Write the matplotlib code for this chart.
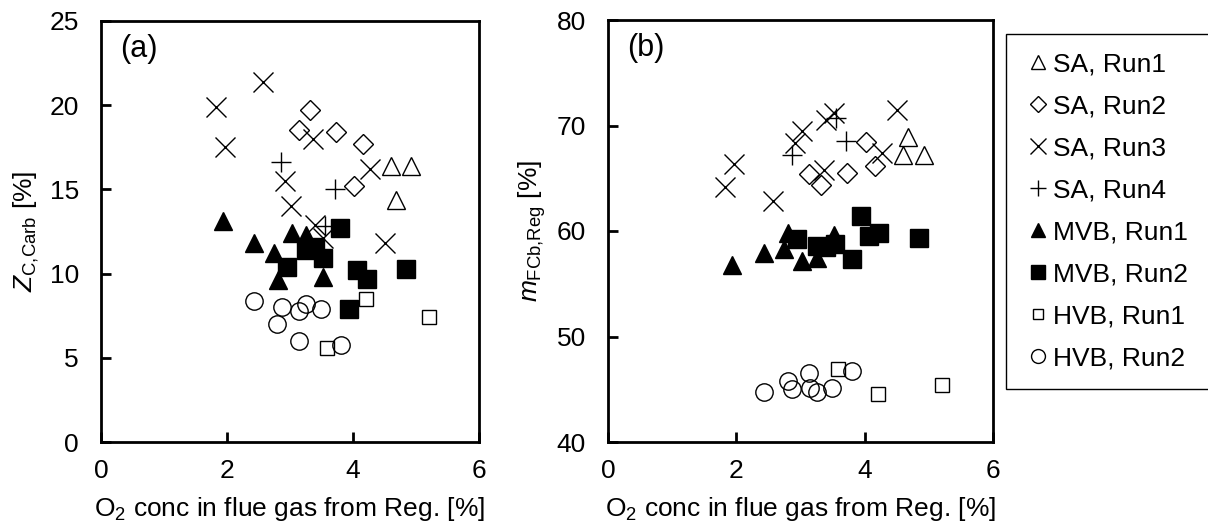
import matplotlib
matplotlib.use("Agg")
import matplotlib.pyplot as plt

plt.rcParams["font.family"] = ["Liberation Sans", "DejaVu Sans"]
plt.rcParams["mathtext.fontset"] = "custom"
plt.rcParams["mathtext.rm"] = "Liberation Sans"
plt.rcParams["mathtext.it"] = "Liberation Sans:italic"

# O2 conc (x) with Z_C,Carb (panel a) and m_FCb,Reg (panel b) per run
sa1_x = [4.60, 4.92, 4.68]
sa1_a = [16.4, 16.4, 14.4]
sa1_b = [67.2, 67.2, 68.9]

sa2_x = [3.32, 3.14, 3.73, 4.16, 4.02]
sa2_a = [19.7, 18.5, 18.4, 17.7, 15.2]
sa2_b = [64.35, 65.4, 65.5, 66.2, 68.4]

sa3_x = [1.83, 2.57, 1.97, 3.36, 2.92, 3.02, 4.27, 3.40, 3.52, 4.51]
sa3_a = [19.9, 21.4, 17.5, 18.0, 15.5, 14.0, 16.2, 12.9, 12.1, 11.8]
sa3_b = [64.2, 62.85, 66.35, 65.8, 68.3, 69.5, 67.4, 70.5, 71.15, 71.5]

sa4_x = [2.86, 3.71, 3.56]
sa4_a = [16.6, 15.0, 12.8]
sa4_b = [67.2, 68.55, 70.7]

mvb1_x = [1.94, 2.43, 2.75, 3.03, 3.26, 2.81, 3.52]
mvb1_a = [13.1, 11.8, 11.2, 12.4, 12.3, 9.6, 9.8]
mvb1_b = [56.8, 57.9, 58.3, 57.2, 57.4, 59.8, 59.6]

mvb2_x = [3.80, 3.26, 3.53, 2.95, 4.06, 4.22, 4.84, 3.94, 3.40]
mvb2_a = [12.7, 11.4, 10.9, 10.4, 10.2, 9.7, 10.3, 7.9, 11.6]
mvb2_b = [57.3, 58.6, 58.8, 59.2, 59.5, 59.85, 59.3, 61.45, 58.5]

hvb1_x = [4.21, 5.20, 3.58]
hvb1_a = [8.5, 7.4, 5.6]
hvb1_b = [44.55, 45.4, 46.9]

hvb2_x = [2.43, 2.87, 3.25, 3.15, 3.49, 2.80, 3.14, 3.81]
hvb2_a = [8.4, 8.0, 8.2, 7.8, 7.9, 7.0, 6.0, 5.75]
hvb2_b = [44.7, 45.0, 44.75, 45.1, 45.1, 45.8, 46.5, 46.7]

labels = ["SA, Run1", "SA, Run2", "SA, Run3", "SA, Run4",
          "MVB, Run1", "MVB, Run2", "HVB, Run1", "HVB, Run2"]

series = [
    (sa1_x, sa1_a, sa1_b, dict(marker="^", ms=13, mfc="none")),
    (sa2_x, sa2_a, sa2_b, dict(marker="D", ms=10, mfc="none")),
    (sa3_x, sa3_a, sa3_b, dict(marker="x", ms=14.5)),
    (sa4_x, sa4_a, sa4_b, dict(marker="+", ms=14.5)),
    (mvb1_x, mvb1_a, mvb1_b, dict(marker="^", ms=13)),
    (mvb2_x, mvb2_a, mvb2_b, dict(marker="s", ms=13)),
    (hvb1_x, hvb1_a, hvb1_b, dict(marker="s", ms=9.5, mfc="none")),
    (hvb2_x, hvb2_a, hvb2_b, dict(marker="o", ms=12.5, mfc="none")),
]

fs = 19
fig = plt.figure(figsize=(12.08, 5.29), dpi=100)
ax1 = fig.add_axes([101 / 1208, 1 - 442 / 529, 378 / 1208, 421 / 529])
ax2 = fig.add_axes([608 / 1208, 1 - 442 / 529, 385 / 1208, 422 / 529])

handles = []
for x, ya, yb, style in series:
    for ax, y in ((ax1, ya), (ax2, yb)):
        h, = ax.plot(x, y, linestyle="none", color="black", mec="black",
                     mew=1.0, **style)
    handles.append(h)

for ax in (ax1, ax2):
    ax.set_xlim(0, 6)
    ax.set_xticks([0, 2, 4, 6])
    ax.tick_params(direction="in", length=7, width=2, labelsize=fs)
    ax.tick_params(axis="x", pad=12)
    ax.tick_params(axis="y", pad=16)
    for sp in ax.spines.values():
        sp.set_linewidth(2)
    ax.set_xlabel(r"O$_2$ conc in flue gas from Reg. [%]", fontsize=fs,
                  labelpad=9)

ax1.set_ylim(0, 25)
ax1.set_yticks([0, 5, 10, 15, 20, 25])
ax1.set_ylabel(r"$Z_{\mathrm{C{,}Carb}}$ [%]", fontsize=fs, labelpad=6)
ax1.text(0.05, 0.97, "(a)", transform=ax1.transAxes, fontsize=22, va="top")

ax2.set_ylim(40, 80)
ax2.set_yticks([40, 50, 60, 70, 80])
ax2.set_ylabel(r"$m_{\mathrm{FCb{,}Reg}}$ [%]", fontsize=fs, labelpad=6)
ax2.text(0.05, 0.97, "(b)", transform=ax2.transAxes, fontsize=22, va="top")

leg = fig.legend(handles, labels, loc="upper left",
                 bbox_to_anchor=(1006 / 1208, 0, 0.2, 1 - 34 / 529),
                 mode="expand", fontsize=fs, markerscale=0.8,
                 handlelength=1.0, handletextpad=0.08, borderpad=0.7,
                 labelspacing=0.68, fancybox=False, framealpha=1,
                 edgecolor="black", borderaxespad=0)
leg.get_frame().set_linewidth(1)

fig.savefig("out.png", dpi=100)
